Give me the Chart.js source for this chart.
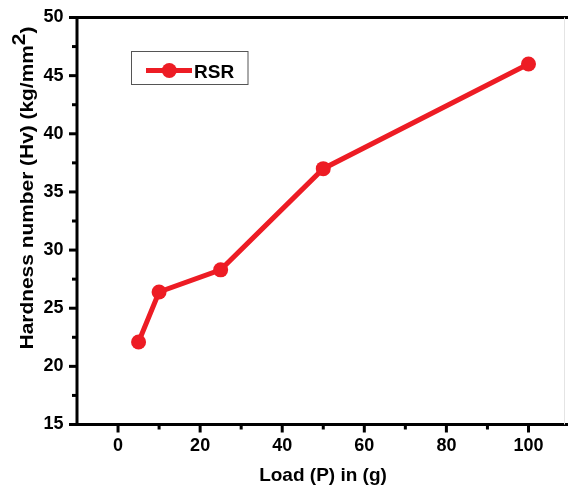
<!DOCTYPE html>
<html>
<head>
<meta charset="utf-8">
<script src="https://cdn.jsdelivr.net/npm/chart.js@4"></script>
<style>
  body { margin: 0; background: #fff; }
  canvas { display: block; }
</style>
</head>
<body>
<canvas id="myChart" width="568" height="491"></canvas>
<script>
// data
const loads = [5, 10, 25, 50, 100];
const hardness = [22.1, 26.4, 28.3, 37.0, 46.0];
const seriesName = 'RSR';
const xTitle = 'Load (P) in (g)';
const yTitle = 'Hardness number (Hv) (kg/mm';

const red = '#ed1c24';
const fontName = '"Liberation Sans", Arial, sans-serif';

// frame, tick marks, axis titles and legend box
const decor = {
    id: 'decor',
    beforeDatasetsDraw(chart) {
        const c = chart.ctx;
        const a = chart.chartArea;
        const xs = chart.scales.x, ys = chart.scales.y;
        c.save();
        c.strokeStyle = '#000';
        c.lineWidth = 3;
        // x ticks
        for (let v = 0; v <= 100; v += 10) {
            const px = xs.getPixelForValue(v);
            const len = v % 20 === 0 ? 8 : 5;
            c.beginPath();
            c.moveTo(px, a.bottom);
            c.lineTo(px, a.bottom + len);
            c.stroke();
        }
        // y ticks
        for (let v = 15; v <= 50; v += 2.5) {
            const py = ys.getPixelForValue(v);
            const len = v % 5 === 0 ? 8 : 5;
            c.beginPath();
            c.moveTo(a.left, py);
            c.lineTo(a.left - len, py);
            c.stroke();
        }
        // frame, running off to the right like the reference
        c.beginPath();
        c.moveTo(568, a.top);
        c.lineTo(a.left, a.top);
        c.lineTo(a.left, a.bottom);
        c.lineTo(568, a.bottom);
        c.stroke();
        c.strokeStyle = '#e4e4e4';
        c.lineWidth = 1;
        c.beginPath();
        c.moveTo(564.5, a.top);
        c.lineTo(564.5, a.bottom);
        c.stroke();

        c.fillStyle = '#000';
        // x title
        c.font = 'bold 19px ' + fontName;
        c.textAlign = 'center';
        c.textBaseline = 'alphabetic';
        c.fillText(xTitle, 323, 481);

        // y title, rotated, with raised 2
        c.save();
        c.font = 'bold 19px ' + fontName;
        c.textAlign = 'left';
        const w1 = c.measureText(yTitle).width;
        const w2 = c.measureText('2').width;
        const w3 = c.measureText(')').width;
        const total = (w1 + w2 + w3) * 1.1;
        c.translate(33, 188 + total / 2);
        c.rotate(-Math.PI / 2);
        c.scale(1.1, 1);
        c.fillText(yTitle, 0, 0);
        c.fillText('2', w1, -8);
        c.fillText(')', w1 + w2, 0);
        c.restore();

        // legend
        c.strokeStyle = '#555';
        c.lineWidth = 1;
        c.strokeRect(131.5, 51.5, 116.5, 33);
        c.strokeStyle = red;
        c.lineWidth = 5;
        c.beginPath();
        c.moveTo(146, 70.5);
        c.lineTo(192, 70.5);
        c.stroke();
        c.fillStyle = red;
        c.beginPath();
        c.arc(169.3, 70.5, 7.5, 0, Math.PI * 2);
        c.fill();
        c.fillStyle = '#000';
        c.font = 'bold 19px ' + fontName;
        c.textAlign = 'left';
        c.fillText(seriesName, 194, 77.5);
        c.restore();
    }
};

const ctx = document.getElementById('myChart').getContext('2d');

const myChart = new Chart(ctx, {
    type: 'line',
    data: {
        datasets: [{
            label: seriesName,
            data: loads.map((x, i) => ({ x: x, y: hardness[i] })),
            borderColor: red,
            backgroundColor: red,
            borderWidth: 5,
            pointRadius: 7.5,
            pointHoverRadius: 7.5,
            pointBorderWidth: 0,
            tension: 0,
            clip: false
        }]
    },
    options: {
        responsive: false,
        animation: false,
        devicePixelRatio: 1,
        layout: { padding: { left: 0, top: 17.5, right: 0, bottom: 0 } },
        plugins: {
            legend: { display: false },
            tooltip: { enabled: false }
        },
        scales: {
            x: {
                type: 'linear',
                min: -10,
                max: 107.8,
                grid: { display: false, drawTicks: false },
                border: { display: false },
                afterFit(scale) {
                    scale.height = 66.5;
                    scale.paddingLeft = 0;
                    scale.paddingRight = 0;
                },
                ticks: {
                    stepSize: 20,
                    includeBounds: false,
                    autoSkip: false,
                    maxRotation: 0,
                    padding: 11,
                    color: '#000',
                    font: { family: fontName, size: 18, weight: 'bold' }
                }
            },
            y: {
                min: 15,
                max: 50,
                grid: { display: false, drawTicks: false },
                border: { display: false },
                afterFit(scale) {
                    scale.width = 77;
                    scale.paddingTop = 0;
                    scale.paddingBottom = 0;
                },
                ticks: {
                    stepSize: 5,
                    autoSkip: false,
                    padding: 13.5,
                    color: '#000',
                    font: { family: fontName, size: 18, weight: 'bold' }
                }
            }
        }
    },
    plugins: [decor]
});
</script>
</body>
</html>
